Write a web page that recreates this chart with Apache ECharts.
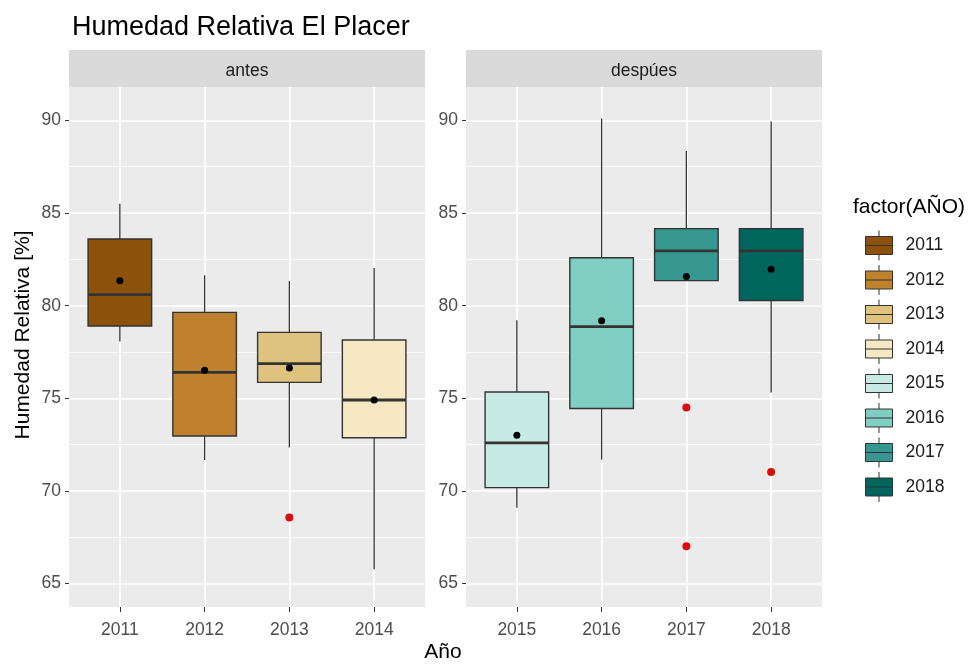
<!DOCTYPE html>
<html>
<head>
<meta charset="utf-8">
<script src="https://cdn.jsdelivr.net/npm/echarts@6/dist/echarts.min.js"></script>
<style>
html,body{margin:0;padding:0;background:#fff;}
#chart{width:978px;height:664px;}
</style>
</head>
<body>
<div id="chart"></div>
<script>
// ---- data ----
const years = [2011, 2012, 2013, 2014, 2015, 2016, 2017, 2018];
const facets = ['antes', 'despúes'];
const facetYears = [[2011, 2012, 2013, 2014], [2015, 2016, 2017, 2018]];
const whiskerLow  = [78.07, 71.67, 72.35, 65.78, 69.09, 71.69, 81.35, 75.32];
const q1          = [78.90, 72.97, 75.86, 72.87, 70.18, 74.45, 81.35, 80.28];
const median      = [80.60, 76.40, 76.87, 74.91, 72.60, 78.87, 82.96, 82.96];
const q3          = [83.60, 79.64, 78.56, 78.15, 75.34, 82.59, 84.16, 84.16];
const whiskerHigh = [85.50, 81.64, 81.33, 82.03, 79.22, 90.10, 88.35, 89.94];
const means       = [81.35, 76.52, 76.64, 74.91, 73.01, 79.18, 81.58, 81.97];
const outlierYears  = [2013, 2017, 2017, 2018];
const outlierValues = [68.57, 74.50, 67.02, 71.03];
const yTicks = [65, 70, 75, 80, 85, 90];
const yMinorTicks = [67.5, 72.5, 77.5, 82.5, 87.5];
const palette = ['#8C510A', '#BF812D', '#DFC27D', '#F6E8C3', '#C7EAE5', '#80CDC1', '#35978F', '#01665E'];

// ---- layout / style ----
const FONT = 'Liberation Sans, Arial, sans-serif';
const Y_MIN = 63.74, Y_MAX = 91.8;
const BOX_WIDTH = 0.75;
const panels = [
  {left: 69, right: 553},
  {left: 466, right: 156}
];
const TOP = 87, BOTTOM = 57;

const chart = echarts.init(document.getElementById('chart'), null, {renderer: 'canvas'});

function renderBox(params, api) {
  const x = api.value(0);
  const lo = api.coord([x, api.value(1)]);
  const b1 = api.coord([x, api.value(2)]);
  const md = api.coord([x, api.value(3)]);
  const b3 = api.coord([x, api.value(4)]);
  const hi = api.coord([x, api.value(5)]);
  const hw = api.size([BOX_WIDTH, 0])[0] / 2;
  const fill = api.visual('color');
  const lineStyle = {stroke: '#333333', lineWidth: 1.3};
  return {
    type: 'group',
    children: [
      {type: 'line', shape: {x1: lo[0], y1: lo[1], x2: b1[0], y2: b1[1]}, style: lineStyle},
      {type: 'line', shape: {x1: b3[0], y1: b3[1], x2: hi[0], y2: hi[1]}, style: lineStyle},
      {type: 'rect', shape: {x: b3[0] - hw, y: b3[1], width: 2 * hw, height: b1[1] - b3[1]},
        style: {fill: fill, stroke: '#333333', lineWidth: 1.4}},
      {type: 'line', shape: {x1: md[0] - hw, y1: md[1], x2: md[0] + hw, y2: md[1]},
        style: {stroke: '#333333', lineWidth: 2.8}}
    ]
  };
}

const grids = panels.map(p => ({
  left: p.left, right: p.right, top: TOP, bottom: BOTTOM,
  show: true, backgroundColor: '#EBEBEB', borderWidth: 0, containLabel: false
}));

const xAxes = facetYears.map((ys, i) => ({
  type: 'value', gridIndex: i,
  min: ys[0] - 0.6, max: ys[ys.length - 1] + 0.6,
  axisLine: {show: false},
  axisTick: {show: true, length: 5, lineStyle: {color: '#333333', width: 1}, customValues: ys},
  axisLabel: {show: true, customValues: ys, margin: 14, fontSize: 17.5, color: '#4D4D4D', fontFamily: FONT,
    formatter: v => String(v)},
  splitLine: {show: true, lineStyle: {color: '#FFFFFF', width: 1.7}}
}));

const yAxes = [];
[0, 1].forEach(i => {
  yAxes.push({
    type: 'value', gridIndex: i, min: Y_MIN, max: Y_MAX,
    axisLine: {show: false},
    axisTick: {show: true, length: 4, lineStyle: {color: '#333333', width: 1}, customValues: yTicks},
    axisLabel: {show: true, customValues: yTicks, margin: 8, fontSize: 17.5, color: '#4D4D4D', fontFamily: FONT},
    splitLine: {show: true, lineStyle: {color: '#FFFFFF', width: 1.7}}
  });
  yAxes.push({
    type: 'value', gridIndex: i, min: Y_MIN, max: Y_MAX, position: 'left',
    axisLine: {show: false},
    axisTick: {show: false, customValues: yMinorTicks},
    axisLabel: {show: false, customValues: yMinorTicks},
    splitLine: {show: true, lineStyle: {color: '#FFFFFF', width: 0.8}}
  });
});

const series = [];
years.forEach((yr, i) => {
  const panel = i < 4 ? 0 : 1;
  series.push({
    type: 'custom', name: String(yr),
    xAxisIndex: panel, yAxisIndex: panel * 2,
    itemStyle: {color: palette[i], borderColor: '#333333', borderWidth: 1},
    renderItem: renderBox,
    encode: {x: 0, y: [1, 2, 3, 4, 5]},
    data: [[yr, whiskerLow[i], q1[i], median[i], q3[i], whiskerHigh[i]]],
    z: 3
  });
});
[0, 1].forEach(panel => {
  const ys = facetYears[panel];
  series.push({
    type: 'scatter', name: 'media' + panel,
    xAxisIndex: panel, yAxisIndex: panel * 2,
    symbolSize: 7, itemStyle: {color: '#000000', opacity: 1},
    data: ys.map(y => [y, means[years.indexOf(y)]]),
    z: 5, silent: true
  });
  series.push({
    type: 'scatter', name: 'atipicos' + panel,
    xAxisIndex: panel, yAxisIndex: panel * 2,
    symbolSize: 8, itemStyle: {color: '#DD0C0C', opacity: 1},
    data: outlierYears.map((y, k) => [y, outlierValues[k]]).filter(d => ys.indexOf(d[0]) >= 0),
    z: 5, silent: true
  });
});

const stripGraphics = facets.map((f, i) => {
  const l = panels[i].left;
  const w = 978 - panels[i].right - l;
  return {
    type: 'rect', left: l, top: 50, shape: {x: 0, y: 0, width: w, height: TOP - 50},
    style: {fill: '#D9D9D9'},
    textContent: {style: {text: f, fontSize: 17.5, fill: '#1A1A1A', fontFamily: FONT}},
    textConfig: {position: 'inside', offset: [0, 3]}
  };
});

const option = {
  animation: false,
  backgroundColor: '#FFFFFF',
  title: {
    text: 'Humedad Relativa El Placer', left: 67, top: 9,
    textStyle: {fontSize: 27, fontWeight: 'normal', color: '#000000', fontFamily: FONT}
  },
  legend: {
    data: years.map(String),
    orient: 'vertical', left: 860, top: 225,
    itemWidth: 27, itemHeight: 30, itemGap: 3.5,
    selectedMode: false,
    icon: 'path://M0,6 L27,6 L27,24 L0,24 Z M0,15 L27,15 M13.5,0 L13.5,6 M13.5,24 L13.5,30',
    itemStyle: {borderColor: '#333333', borderWidth: 1},
    textStyle: {fontSize: 17.5, color: '#1A1A1A', fontFamily: FONT, padding: [0, 0, 0, 8]}
  },
  grid: grids,
  xAxis: xAxes,
  yAxis: yAxes,
  series: series,
  graphic: stripGraphics.concat([
    {type: 'text', x: 443, y: 652, style: {text: 'Año', fontSize: 21, fill: '#000000', fontFamily: FONT,
      textAlign: 'center', textVerticalAlign: 'middle'}},
    {type: 'text', x: 23, y: 335, rotation: Math.PI / 2,
      style: {text: 'Humedad Relativa [%]', fontSize: 21, fill: '#000000', fontFamily: FONT,
        textAlign: 'center', textVerticalAlign: 'middle'}},
    {type: 'text', x: 853, y: 207, style: {text: 'factor(AÑO)', fontSize: 21, fill: '#000000', fontFamily: FONT,
      textAlign: 'left', textVerticalAlign: 'middle'}}
  ])
};
chart.setOption(option);
</script>
</body>
</html>
